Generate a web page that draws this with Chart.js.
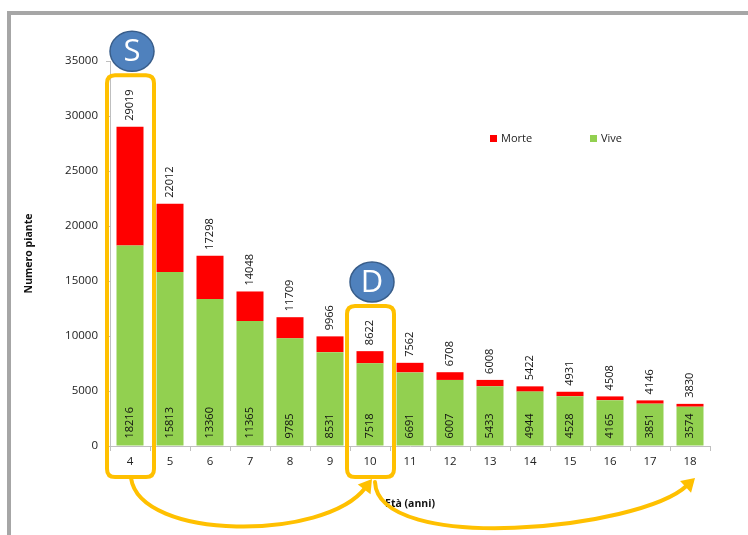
<!DOCTYPE html>
<html lang="it">
<head>
<meta charset="UTF-8">
<title>Numero piante per età</title>
<script src="https://cdn.jsdelivr.net/npm/chart.js"></script>
<style>
  body { margin: 0; background: #fff; }
  canvas { display: block; }
</style>
</head>
<body>
<canvas id="pianteChart" width="748" height="535"></canvas>
<script>
// età delle piante (anni)
const eta = ['4', '5', '6', '7', '8', '9', '10', '11', '12', '13', '14', '15', '16', '17', '18'];
// piante vive per classe di età
const vive = [18216, 15813, 13360, 11365, 9785, 8531, 7518, 6691, 6007, 5433, 4944, 4528, 4165, 3851, 3574];
// piante morte per classe di età
const morte = [10803, 6199, 3938, 2683, 1924, 1435, 1104, 871, 701, 575, 478, 403, 343, 295, 256];
const yMax = 35000;
const yStep = 5000;

const FONT = "'Open Sans', sans-serif";
const ORANGE = '#ffc000';
const RED = '#ff0000';
const GREEN = '#92d050';

function roundRect(ctx, x0, y0, x1, y1, r) {
    ctx.beginPath();
    ctx.moveTo(x0 + r, y0);
    ctx.lineTo(x1 - r, y0);
    ctx.quadraticCurveTo(x1, y0, x1, y0 + r);
    ctx.lineTo(x1, y1 - r);
    ctx.quadraticCurveTo(x1, y1, x1 - r, y1);
    ctx.lineTo(x0 + r, y1);
    ctx.quadraticCurveTo(x0, y1, x0, y1 - r);
    ctx.lineTo(x0, y0 + r);
    ctx.quadraticCurveTo(x0, y0, x0 + r, y0);
    ctx.closePath();
}

// curved arrow with a filled head at (x3, y3)
function curvedArrow(ctx, x0, y0, c1x, c1y, c2x, c2y, x3, y3) {
    const dx = x3 - c2x, dy = y3 - c2y;
    const len = Math.hypot(dx, dy);
    const ux = dx / len, uy = dy / len;
    const headLen = 13, headW = 8;
    const bx = x3 - ux * headLen, by = y3 - uy * headLen;
    ctx.beginPath();
    ctx.moveTo(x0, y0);
    ctx.bezierCurveTo(c1x, c1y, c2x, c2y, bx + ux * 2, by + uy * 2);
    ctx.stroke();
    ctx.beginPath();
    ctx.moveTo(x3, y3);
    ctx.lineTo(bx - uy * headW, by + ux * headW);
    ctx.lineTo(bx + uy * headW, by - ux * headW);
    ctx.closePath();
    ctx.fill();
}

function letterBadge(ctx, cx, cy, letter) {
    ctx.save();
    ctx.beginPath();
    ctx.ellipse(cx, cy, 22, 20, 0, 0, Math.PI * 2);
    ctx.fillStyle = '#4f81bd';
    ctx.fill();
    ctx.lineWidth = 1.5;
    ctx.strokeStyle = '#385d8a';
    ctx.stroke();
    ctx.fillStyle = '#fff';
    ctx.font = '31px ' + FONT;
    ctx.textAlign = 'center';
    ctx.textBaseline = 'middle';
    ctx.fillText(letter, cx, cy + 1);
    ctx.restore();
}

const decorPlugin = {
    id: 'decor',
    beforeDraw(chart) {
        const ctx = chart.ctx;
        ctx.save();
        ctx.fillStyle = '#a6a6a6';
        ctx.fillRect(7, 11, 4, chart.height - 11);
        ctx.fillRect(7, 11, chart.width - 7, 4);
        ctx.restore();
    },
    afterDatasetsDraw(chart) {
        const ctx = chart.ctx;
        const viveBars = chart.getDatasetMeta(0).data;
        const morteBars = chart.getDatasetMeta(1).data;
        ctx.save();
        ctx.font = '11px ' + FONT;
        ctx.fillStyle = '#111';
        ctx.textAlign = 'left';
        ctx.textBaseline = 'middle';
        morteBars.forEach((bar, i) => {
            ctx.save();
            ctx.translate(bar.x, bar.y - 6);
            ctx.rotate(-Math.PI / 2);
            ctx.fillText(String(vive[i] + morte[i]), 0, 0);
            ctx.restore();
        });
        viveBars.forEach((bar, i) => {
            ctx.save();
            ctx.translate(bar.x, bar.base - 7);
            ctx.rotate(-Math.PI / 2);
            ctx.fillText(String(vive[i]), 0, 0);
            ctx.restore();
        });
        ctx.restore();
    },
    afterDraw(chart) {
        const ctx = chart.ctx;
        const xs = chart.scales.x;
        const ys = chart.scales.y;
        const area = chart.chartArea;

        // legend
        ctx.save();
        ctx.font = '11px ' + FONT;
        ctx.textBaseline = 'middle';
        ctx.fillStyle = RED;
        ctx.fillRect(490, 135, 7, 7);
        ctx.fillStyle = GREEN;
        ctx.fillRect(590, 135, 7, 7);
        ctx.fillStyle = '#222';
        ctx.fillText(chart.data.datasets[1].label, 501, 139);
        ctx.fillText(chart.data.datasets[0].label, 601, 139);
        ctx.restore();

        // highlight boxes around age 4 (S) and age 10 (D)
        ctx.save();
        ctx.font = '11px ' + FONT;
        const boxes = [[0, 'S'], [6, 'D']].map(([i, letter]) => {
            const cx = xs.getPixelForValue(i);
            const total = vive[i] + morte[i];
            const labelTop = ys.getPixelForValue(total) - 6 - ctx.measureText(String(total)).width;
            return { cx, top: labelTop - 14, bottom: area.bottom + 31, letter };
        });
        ctx.strokeStyle = ORANGE;
        ctx.fillStyle = ORANGE;
        ctx.lineWidth = 4;
        boxes.forEach(b => {
            roundRect(ctx, b.cx - 23, b.top, b.cx + 24, b.bottom, 8);
            ctx.stroke();
        });

        // arrows 4 -> 10 -> 18
        const x4 = boxes[0].cx, x10 = boxes[1].cx, x18 = xs.getPixelForValue(eta.length - 1);
        const yb = area.bottom + 32;
        ctx.lineCap = 'round';
        curvedArrow(ctx, x4 + 1, yb, x4 + 10, yb + 63, x10 - 45, yb + 63, x10 + 2, yb + 1);
        curvedArrow(ctx, x10 + 5, yb + 4, x10 + 8, yb + 77, x18 - 50, yb + 52, x18 + 5, yb);
        ctx.restore();

        boxes.forEach(b => letterBadge(ctx, b.cx + 2, b.top - 24, b.letter));
    }
};

new Chart(document.getElementById('pianteChart'), {
    type: 'bar',
    data: {
        labels: eta,
        datasets: [
            { label: 'Vive', data: vive, backgroundColor: GREEN },
            { label: 'Morte', data: morte, backgroundColor: RED }
        ]
    },
    options: {
        responsive: false,
        animation: false,
        layout: { padding: { top: 61, right: 38, bottom: 0, left: 0 } },
        plugins: {
            legend: { display: false },
            tooltip: { enabled: false }
        },
        datasets: { bar: { barPercentage: 0.9, categoryPercentage: 0.75 } },
        scales: {
            x: {
                stacked: true,
                grid: { drawOnChartArea: false, tickLength: 5, color: '#bfbfbf' },
                border: { color: '#bfbfbf' },
                ticks: { color: '#222', font: { family: FONT, size: 11.5 }, padding: 4, maxRotation: 0 },
                title: {
                    display: true,
                    text: 'Età (anni)',
                    color: '#111',
                    font: { family: FONT, size: 10.5, weight: 'bold' },
                    padding: { top: 0, bottom: 25 }
                },
                afterFit(scale) { scale.height = 89; }
            },
            y: {
                stacked: true,
                min: 0,
                max: yMax,
                grid: { drawOnChartArea: false, tickLength: 4, color: '#bfbfbf' },
                border: { color: '#bfbfbf' },
                ticks: {
                    stepSize: yStep,
                    color: '#222',
                    font: { family: FONT, size: 11.5 },
                    padding: 8,
                    callback: value => String(value)
                },
                title: {
                    display: true,
                    text: 'Numero piante',
                    color: '#111',
                    font: { family: FONT, size: 10.5, weight: 'bold' },
                    padding: { top: 23, bottom: 0 }
                },
                afterFit(scale) { scale.width = 110; }
            }
        }
    },
    plugins: [decorPlugin]
});
</script>
</body>
</html>
